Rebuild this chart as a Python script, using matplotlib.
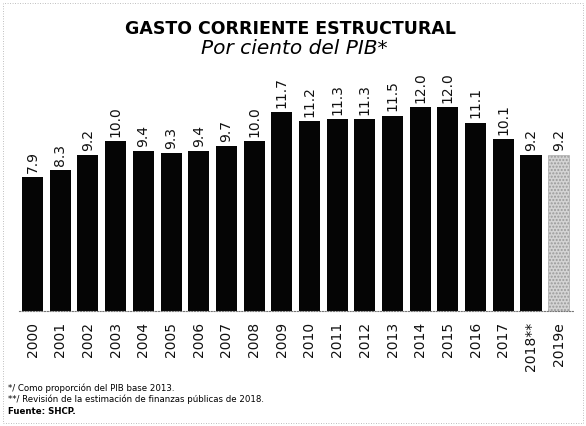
import matplotlib.pyplot as plt
from matplotlib.patches import Rectangle

years = ['2000', '2001', '2002', '2003', '2004', '2005', '2006', '2007', '2008', '2009',
         '2010', '2011', '2012', '2013', '2014', '2015', '2016', '2017', '2018**', '2019e']
values = [7.9, 8.3, 9.2, 10.0, 9.4, 9.3, 9.4, 9.7, 10.0, 11.7,
          11.2, 11.3, 11.3, 11.5, 12.0, 12.0, 11.1, 10.1, 9.2, 9.2]
notes = ['*/ Como proporción del PIB base 2013.',
         '**/ Revisión de la estimación de finanzas públicas de 2018.',
         'Fuente: SHCP.']

fig = plt.figure(figsize=(5.86, 4.26), dpi=100)
ax = fig.add_axes([0.032, 0.27, 0.945, 0.566])

x = list(range(len(values)))
bars = ax.bar(x[:-1], values[:-1], width=0.76, color='#050505')
est = ax.bar(x[-1:], values[-1:], width=0.76, color='#d4d4d4',
             edgecolor='#9a9a9a', linewidth=0.4, hatch='.....')

for xi, v in zip(x, values):
    ax.text(xi, v + 0.25, '%.1f' % v, rotation=90, ha='center', va='bottom',
            fontsize=10, color='#111111')

ax.set_xlim(-0.5, len(values) - 0.5)
ax.set_ylim(0, 14.2)
ax.set_yticks([])
ax.set_xticks(x)
ax.set_xticklabels(years, rotation=90, fontsize=10, color='#111111')
ax.tick_params(axis='x', length=0, pad=8)
for s in ['top', 'right', 'left']:
    ax.spines[s].set_visible(False)
ax.spines['bottom'].set_linestyle((0, (1, 1.5)))
ax.spines['bottom'].set_color('#777777')
ax.spines['bottom'].set_linewidth(0.8)

fig.text(0.495, 0.933, 'GASTO CORRIENTE ESTRUCTURAL', ha='center', va='center',
         fontsize=12.5, fontweight='heavy', family='DejaVu Sans')
fig.text(0.503, 0.887, 'Por ciento del PIB*', ha='center', va='center',
         fontsize=14.5, style='italic')

for i, t in enumerate(notes):
    fig.text(0.014, 0.089 - i * 0.027, t, ha='left', va='center', fontsize=6.2,
             fontweight='bold' if i == 2 else 'normal')

# frame of the scanned page
fig.patches.append(Rectangle((0.005, 0.006), 0.99, 0.986, transform=fig.transFigure,
                             fill=False, edgecolor='#aaaaaa', linewidth=0.6,
                             linestyle=(0, (1, 2))))

fig.savefig('out.png', dpi=100)
